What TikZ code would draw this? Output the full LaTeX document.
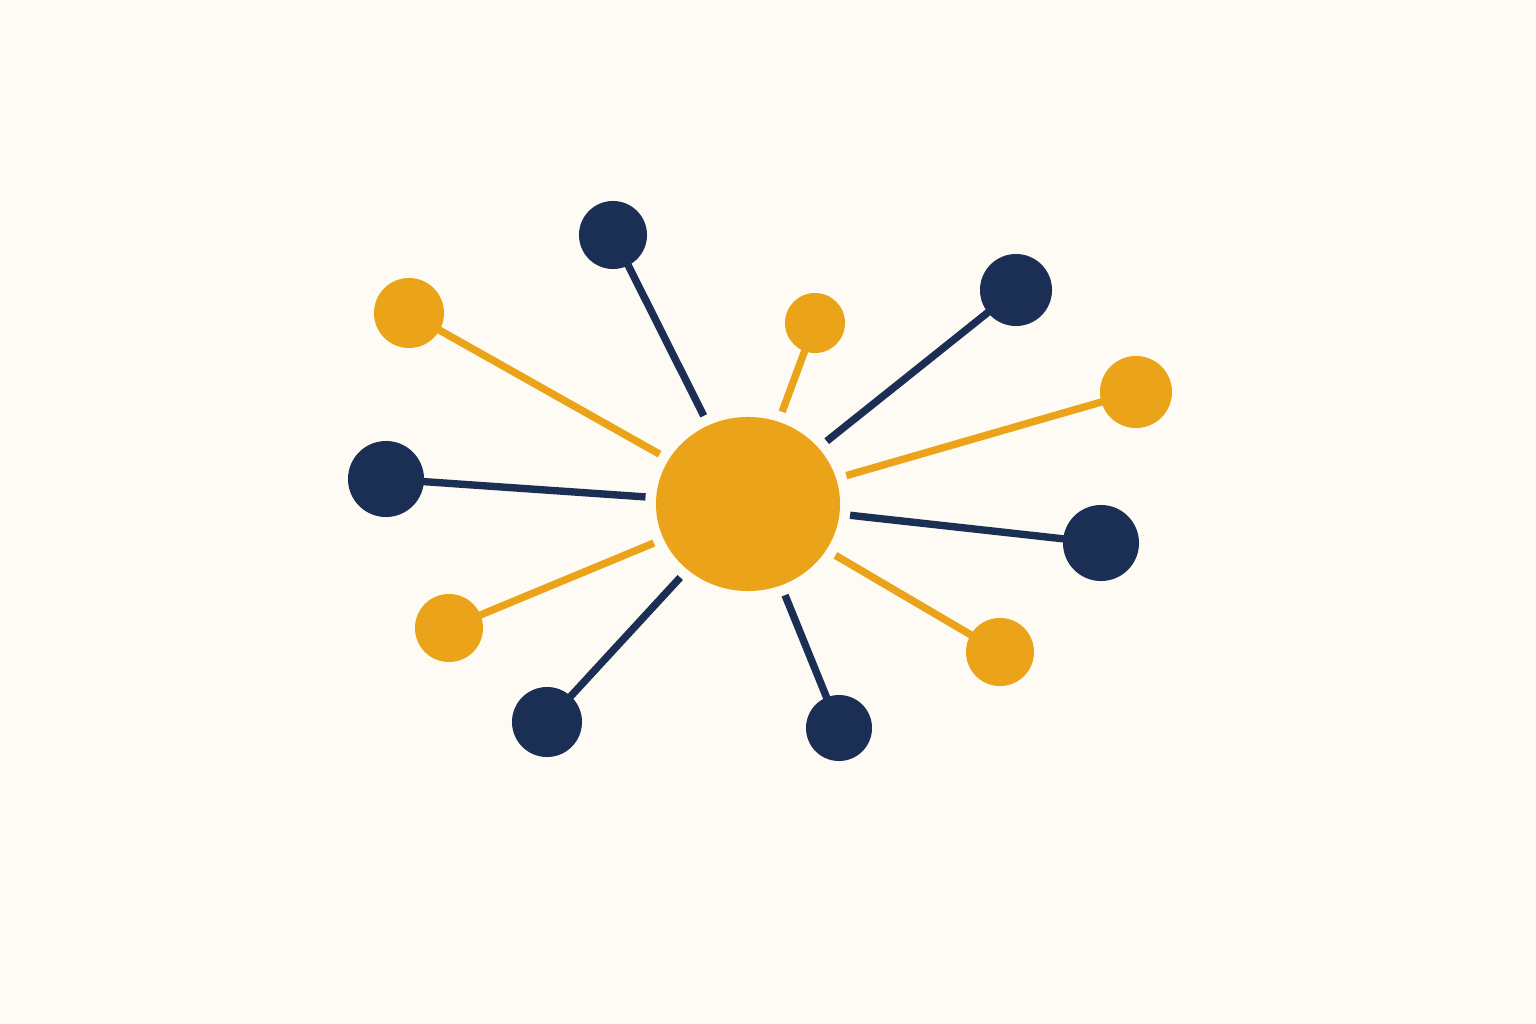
\documentclass[tikz,border=0pt]{standalone}
\usepackage{tikz}
\usetikzlibrary{shapes.geometric}

\begin{document}
\begin{tikzpicture}[x=0.01cm,y=-0.01cm]
\definecolor{paper}{HTML}{FEFAF4}
\definecolor{navy}{HTML}{1B2F55}
\definecolor{amber}{HTML}{EBA31A}
\tikzset{
  hub/.style={ellipse,fill=amber,draw=none,inner sep=0pt,minimum width=1.84cm,minimum height=1.74cm},
  sat/.style={circle,draw=none,inner sep=0pt},
  spoke/.style={line width=2.1pt,shorten <=0.1cm,shorten >=-0.08cm,line cap=butt}
}
\fill[paper] (0,0) rectangle (1536,1024);

\node[hub] (hub) at (748,504) {};

% satellites: name/x/y/diameter/colour
\foreach \n/\x/\y/\d/\col in {
  s1/613/235/0.68/navy,  s2/409/313/0.70/amber, s3/815/323/0.60/amber,
  s4/1016/290/0.72/navy, s5/1136/392/0.72/amber, s6/386/479/0.76/navy,
  s7/1101/543/0.76/navy, s8/449/628/0.68/amber, s9/547/722/0.70/navy,
  s10/1000/652/0.68/amber, s11/839/728/0.66/navy} {
  \node[sat,fill=\col,minimum size=\d cm] (\n) at (\x,\y) {};
  \draw[spoke,draw=\col] (hub) -- (\n);
}
\end{tikzpicture}
\end{document}
